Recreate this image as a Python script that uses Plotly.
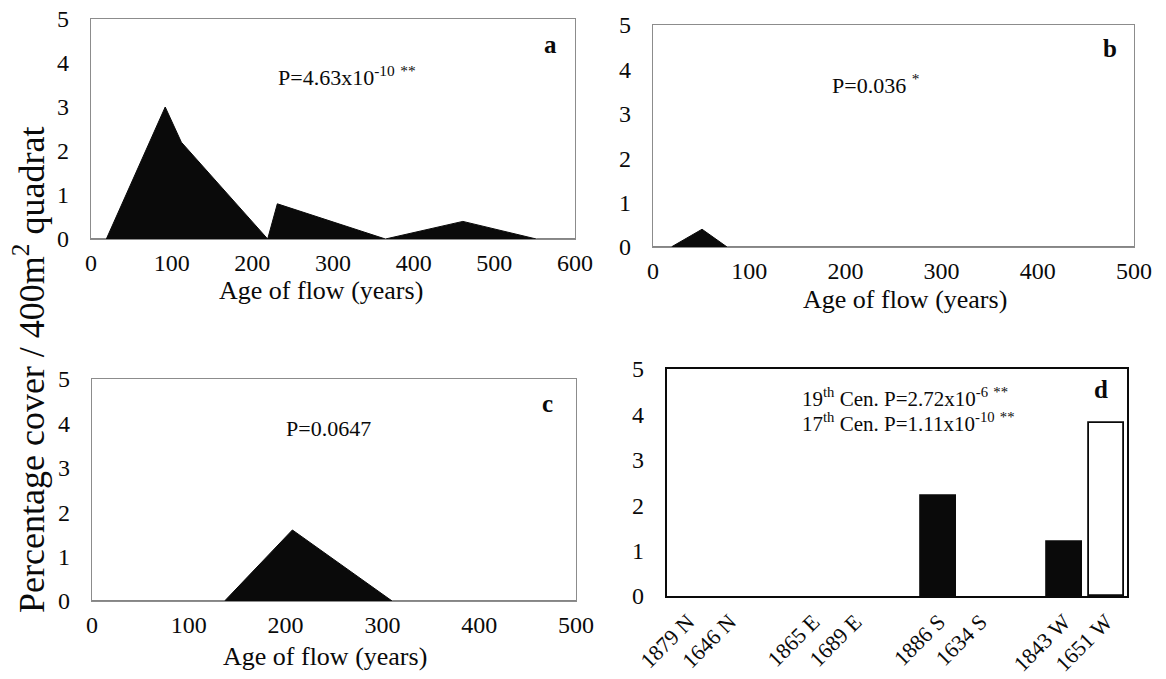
import plotly.graph_objects as go

# ---------------- data ----------------
a_age = [0, 19, 92, 112, 219, 231, 365, 461, 552, 600]
a_cover = [0, 0, 3.0, 2.2, 0, 0.8, 0, 0.4, 0, 0]

b_age = [0, 19, 51, 77, 500]
b_cover = [0, 0, 0.4, 0, 0]

c_age = [0, 137, 207, 310, 500]
c_cover = [0, 0, 1.6, 0, 0]

d_labels = ["1879 N", "1646 N", "1865 E", "1689 E", "1886 S", "1634 S", "1843 W", "1651 W"]
d_century = ["19th", "17th", "19th", "17th", "19th", "17th", "19th", "17th"]
d_cover = [0, 0, 0, 0, 2.2, 0, 1.2, 3.8]

y_ticks = [0, 1, 2, 3, 4, 5]

W, H = 1166, 679
FONT = "Liberation Serif"
INK = "#0a0a0a"


def px_x(x):
    return x / W


def px_y(y):
    return 1 - y / H


# panel boxes in pixels (left, right, top, bottom)
boxes = {
    "a": (91, 575, 19, 239),
    "b": (653, 1134, 25, 247),
    "c": (92, 576, 379, 601),
    "d": (667, 1127, 369, 596),
}

fig = go.Figure()

area_sets = [(a_age, a_cover, "x", "y"),
             (b_age, b_cover, "x2", "y2"),
             (c_age, c_cover, "x3", "y3")]
for xs, ys, xa, ya in area_sets:
    fig.add_trace(go.Scatter(x=xs, y=ys, mode="lines", fill="tozeroy",
                             fillcolor=INK, line=dict(color=INK, width=1),
                             xaxis=xa, yaxis=ya, showlegend=False, hoverinfo="skip"))

# panel d: slots grouped by aspect (N, E, S, W) with a blank slot between groups
slots = [(i // 2) * 3 + (i % 2) for i in range(len(d_labels))]
for cen, color in [("19th", INK), ("17th", "white")]:
    xs = [s for s, c in zip(slots, d_century) if c == cen]
    ys = [v for v, c in zip(d_cover, d_century) if c == cen]
    lw = [1.8 if v > 0 else 0 for v in ys]
    fig.add_trace(go.Bar(x=xs, y=ys, width=0.84,
                         marker=dict(color=color, line=dict(color=INK, width=lw)),
                         xaxis="x4", yaxis="y4", showlegend=False, hoverinfo="skip"))

tickfont = dict(family=FONT, size=24, color=INK)
common_x = dict(showgrid=False, zeroline=False, showline=True, mirror=True, ticks="",
                tickfont=tickfont, ticklabelstandoff=2, automargin=False)
common_y = dict(showgrid=False, zeroline=False, showline=True, mirror=True, ticks="",
                tickfont=tickfont, range=[0, 5], tickvals=y_ticks, ticklabelstandoff=16,
                automargin=False)

gray = "#8c8c8c"
for idx, (name, xr, dt) in enumerate([("a", [0, 600], 100), ("b", [0, 500], 100), ("c", [0, 500], 100)]):
    l, r, t, b = boxes[name]
    suffix = "" if idx == 0 else str(idx + 1)
    fig.layout["xaxis" + suffix] = dict(common_x, domain=[px_x(l), px_x(r)], range=xr, dtick=dt,
                                        tick0=0, anchor="y" + suffix, linecolor=gray, linewidth=1.2)
    fig.layout["yaxis" + suffix] = dict(common_y, domain=[px_y(b), px_y(t)], anchor="x" + suffix,
                                        linecolor=gray, linewidth=1.2)

l, r, t, b = boxes["d"]
fig.layout["xaxis4"] = dict(common_x, domain=[px_x(l), px_x(r)], range=[-0.5, 10.5],
                            tickvals=slots, ticktext=d_labels, tickangle=-45, anchor="y4",
                            linecolor=INK, linewidth=2.4,
                            tickfont=dict(family=FONT, size=22, color=INK))
fig.layout["yaxis4"] = dict(common_y, domain=[px_y(b), px_y(t)], anchor="x4",
                            linecolor=INK, linewidth=2.4)

ann = []


def add_text(text, x, y, size, bold=False, xanchor="center"):
    ann.append(dict(text=("<b>%s</b>" % text) if bold else text, x=px_x(x), y=px_y(y),
                    xref="paper", yref="paper", showarrow=False, xanchor=xanchor, yanchor="middle",
                    font=dict(family=FONT, size=size, color=INK)))


add_text("P=4.63x10<sup>-10</sup> <sup>**</sup>", 347, 76, 22)
add_text("a", 550, 45, 25, bold=True)
add_text("P=0.036 <sup>*</sup>", 875, 84, 22)
add_text("b", 1110, 49, 25, bold=True)
add_text("P=0.0647", 328, 428, 22)
add_text("c", 547, 403, 25, bold=True)
add_text("19<sup>th</sup> Cen. P=2.72x10<sup>-6</sup> <sup>**</sup>", 800, 397, 21, xanchor="left")
add_text("17<sup>th</sup> Cen. P=1.11x10<sup>-10</sup> <sup>**</sup>", 800, 422, 21, xanchor="left")
add_text("d", 1101, 390, 25, bold=True)

add_text("Age of flow (years)", 321, 290, 26)
add_text("Age of flow (years)", 905, 299, 26)
add_text("Age of flow (years)", 325, 656, 26)

ann.append(dict(text="Percentage cover / 400m<sup>2</sup> quadrat", x=px_x(30), y=px_y(370),
                xref="paper", yref="paper", showarrow=False, textangle=-90,
                xanchor="center", yanchor="middle",
                font=dict(family=FONT, size=36, color=INK)))

fig.update_layout(template="none", width=W, height=H, margin=dict(l=0, r=0, t=0, b=0),
                  paper_bgcolor="white", plot_bgcolor="white", annotations=ann,
                  bargap=0, barmode="overlay", showlegend=False)

fig.write_html("out.html")
